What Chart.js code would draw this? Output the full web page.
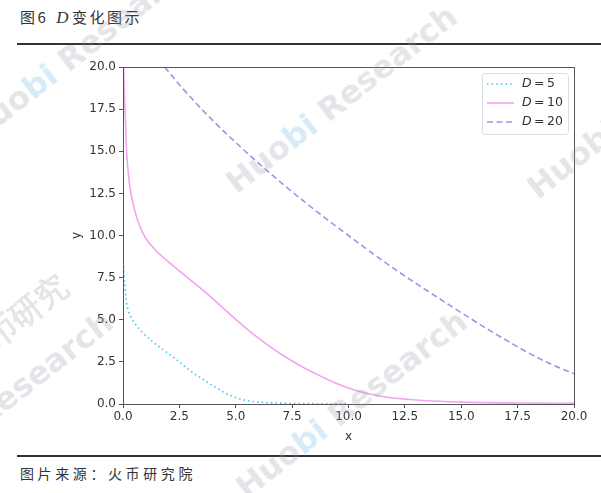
<!DOCTYPE html>
<html>
<head>
<meta charset="utf-8">
<script src="https://cdn.jsdelivr.net/npm/chart.js@4.4.1/dist/chart.umd.min.js"></script>
<style>
  html, body { margin: 0; padding: 0; background: #fff; }
  #page { position: relative; width: 601px; height: 493px; overflow: hidden; font-family: "Noto Sans CJK SC", sans-serif; }
  .cap { position: absolute; left: 20px; color: #333; white-space: nowrap; }
  #title { top: 6px; font-size: 15px; letter-spacing: 2.5px; }
  #title i { font-family: "Liberation Serif", serif; font-size: 17px; margin-left: 8px; margin-right: 1px; }
  #source { top: 463px; font-size: 14px; letter-spacing: 3.6px; }
  .rule { position: absolute; left: 17px; right: 0; height: 2px; background: #333; }
  #wrap { position: absolute; left: 0; top: 50px; width: 601px; height: 400px; }
  .wm { position: absolute; font-family: "DejaVu Sans", sans-serif; font-weight: bold; font-size: 32px;
        color: rgba(150,154,170,0.26); transform: rotate(-38deg); transform-origin: center; white-space: nowrap; pointer-events: none; }
  .wm b { color: rgba(120,190,230,0.3); }
</style>
</head>
<body>
<div id="page">
  <div id="title" class="cap">图6<i>D</i>变化图示</div>
  <div class="rule" style="top:43px"></div>
  <div id="wrap"><canvas id="c"></canvas></div>
  <div class="rule" style="top:455px"></div>
  <div id="source" class="cap">图片来源：火币研究院</div>
  <div class="wm" style="left:-60px; top:30px;">Huo<b>bi</b> Research</div>
  <div class="wm" style="left:200px; top:80px;">Huo<b>bi</b> Research</div>
  <div class="wm" style="left:520px; top:140px;">Huobi</div>
  <div class="wm" style="left:-50px; top:300px;">火币研究</div>
  <div class="wm" style="left:-40px; top:350px;">Research</div>
  <div class="wm" style="left:210px; top:385px;">Huo<b>bi</b> Research</div>
</div>
<script>
// values
const labels = ['5', '10', '20'];
const colors = ['#3fcdef', '#f4a3f0', '#a592e6'];

const x5 = [0.0, 0.02, 0.05, 0.09, 0.16, 0.31, 0.53, 0.9, 1.3, 1.64, 2.0, 2.5, 3.0, 3.5, 4.0, 4.5, 5.0, 5.5, 6.0, 7.0, 8.5, 10.0];
const y5 = [8.45, 8.2, 7.6, 6.96, 6.0, 5.28, 4.79, 4.2, 3.72, 3.35, 3.0, 2.5, 1.95, 1.5, 1.08, 0.68, 0.38, 0.2, 0.11, 0.05, 0.02, 0.01];

const x10 = [0.03, 0.06, 0.09, 0.16, 0.25, 0.35, 0.5, 0.7, 1.0, 1.5, 2.0, 2.5, 3.0, 3.5, 4.0, 4.5, 5.0, 5.5, 6.0, 6.5, 7.0, 7.5, 8.0, 8.5, 9.0, 9.5, 10.0, 10.5, 11.0, 11.5, 12.0, 13.0, 14.0, 15.0, 17.5, 20.0];
const y10 = [20.0, 18.5, 17.5, 15.0, 13.5, 12.5, 11.6, 10.7, 9.85, 9.05, 8.45, 7.9, 7.35, 6.8, 6.22, 5.62, 5.02, 4.45, 3.92, 3.42, 2.97, 2.55, 2.17, 1.83, 1.5, 1.2, 0.95, 0.74, 0.58, 0.45, 0.36, 0.24, 0.16, 0.11, 0.06, 0.04];

const x20 = [1.85, 2.5, 3.0, 3.5, 4.0, 4.5, 5.0, 6.0, 7.0, 8.0, 9.0, 10.0, 11.0, 12.0, 13.0, 14.0, 15.0, 16.0, 17.0, 18.0, 19.0, 20.0];
const y20 = [20.0, 18.95, 18.2, 17.48, 16.8, 16.15, 15.52, 14.3, 13.15, 12.05, 11.0, 10.0, 9.0, 8.05, 7.15, 6.28, 5.42, 4.58, 3.78, 3.02, 2.35, 1.8];

const tickVals = [0, 2.5, 5, 7.5, 10, 12.5, 15, 17.5, 20];

const pts = (xs, ys) => xs.map((x, i) => ({ x, y: ys[i] }));
const dashes = [[1.6, 3], [], [6, 3.5]];

const frame = {
  id: 'frame',
  afterDatasetsDraw(chart) {
    const { ctx, chartArea: a } = chart;
    ctx.save();
    ctx.strokeStyle = '#555';
    ctx.lineWidth = 1;
    ctx.strokeRect(a.left + 0.5, a.top + 0.5, a.right - a.left, a.bottom - a.top);
    // legend
    const bx = a.right - 92, by = a.top + 6, bw = 86, bh = 61;
    ctx.fillStyle = 'rgba(255,255,255,0.85)';
    ctx.strokeStyle = '#ddd';
    ctx.beginPath();
    ctx.roundRect(bx + 0.5, by + 0.5, bw, bh, 3);
    ctx.fill(); ctx.stroke();
    chart.data.datasets.forEach((ds, i) => {
      const yy = by + 11 + i * 19;
      ctx.strokeStyle = ds.borderColor;
      ctx.lineWidth = 1.6;
      ctx.setLineDash(ds.borderDash || []);
      ctx.beginPath(); ctx.moveTo(bx + 5, yy); ctx.lineTo(bx + 32, yy); ctx.stroke();
      ctx.setLineDash([]);
      ctx.fillStyle = '#333';
      ctx.textBaseline = 'middle';
      ctx.font = 'italic 12.5px "DejaVu Sans"';
      ctx.fillText('D', bx + 40, yy);
      ctx.font = '12.5px "DejaVu Sans"';
      ctx.fillText('=', bx + 52, yy);
      ctx.fillText(ds.label, bx + 65, yy);
    });
    ctx.restore();
  }
};

new Chart(document.getElementById('c'), {
  type: 'scatter',
  data: {
    datasets: [pts(x5, y5), pts(x10, y10), pts(x20, y20)].map((d, i) => ({
      label: labels[i], data: d, showLine: true, pointRadius: 0,
      borderColor: colors[i], borderWidth: 1.6, borderDash: dashes[i], cubicInterpolationMode: 'monotone'
    }))
  },
  options: {
    responsive: true, maintainAspectRatio: false, animation: false,
    layout: { padding: { left: 70, right: 27, top: 17, bottom: 6 } },
    plugins: { legend: { display: false }, tooltip: { enabled: false } },
    scales: {
      x: {
        type: 'linear', min: 0, max: 20,
        afterFit: s => { s.height = 40; },
        afterBuildTicks: s => { s.ticks = tickVals.map(v => ({ value: v })); },
        ticks: { color: '#333', font: { family: 'DejaVu Sans', size: 12 }, padding: 2, maxRotation: 0, callback: v => v.toFixed(1) },
        grid: { drawOnChartArea: false, drawTicks: true, tickLength: 4, color: '#555' },
        border: { color: '#555' },
        title: { display: true, text: 'x', color: '#333', font: { family: 'DejaVu Sans', size: 12 }, padding: { top: 1, bottom: 0 } }
      },
      y: {
        type: 'linear', min: 0, max: 20,
        afterFit: s => { s.width = 53; },
        afterBuildTicks: s => { s.ticks = tickVals.map(v => ({ value: v })); },
        ticks: { color: '#333', font: { family: 'DejaVu Sans', size: 12 }, padding: 3, callback: v => v.toFixed(1) },
        grid: { drawOnChartArea: false, drawTicks: true, tickLength: 4, color: '#555' },
        border: { color: '#555' },
        title: { display: true, text: 'y', color: '#333', font: { family: 'DejaVu Sans', size: 12 }, padding: { top: 0, bottom: 0 } }
      }
    }
  },
  plugins: [frame]
});
</script>
</body>
</html>
